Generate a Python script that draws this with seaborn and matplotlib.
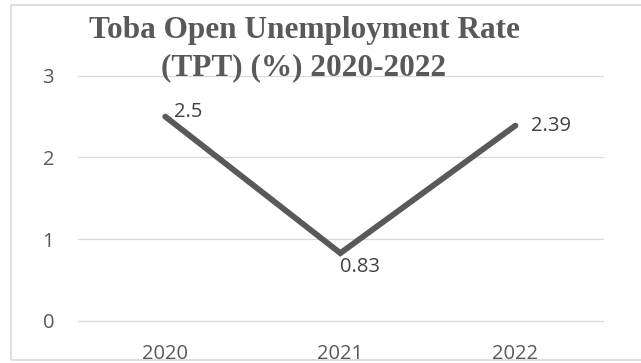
import matplotlib
matplotlib.use("Agg")
import matplotlib.pyplot as plt
import seaborn as sns
import pandas as pd
from matplotlib.patches import Rectangle

years = ["2020", "2021", "2022"]
rates = [2.5, 0.83, 2.39]
label_text = ["2.5", "0.83", "2.39"]
title_lines = ["Toba Open Unemployment Rate", "(TPT) (%) 2020-2022"]
y_ticks = [0, 1, 2, 3]

df = pd.DataFrame({"year": years, "rate": rates})

sns.set_theme(style="white")
plt.rcParams["font.family"] = ["Open Sans", "DejaVu Sans"]

W, H = 641, 363
fig = plt.figure(figsize=(W / 100, H / 100), dpi=100)
fig.patch.set_facecolor("white")

x0, x1 = 77.7, 603.0
ytop, ybot = 75.7, 321.0
ax = fig.add_axes([x0 / W, 1 - ybot / H, (x1 - x0) / W, (ybot - ytop) / H])
ax.set_facecolor("white")

grey = "#595959"
sns.lineplot(data=df, x="year", y="rate", ax=ax, color=grey, linewidth=4.2,
             sort=False, zorder=3)
for ln in ax.get_lines():
    ln.set_solid_capstyle("round")
    ln.set_solid_joinstyle("miter")

ax.set_xlim(-0.5, 2.5)
ax.set_ylim(0, 3)
ax.set_yticks(y_ticks)
ax.set_yticklabels([str(t) for t in y_ticks])
for t in y_ticks:
    ax.axhline(t, color="#d9d9d9", lw=0.9, zorder=1, clip_on=False)
for s in ax.spines.values():
    s.set_visible(False)
ax.set_xlabel("")
ax.set_ylabel("")
ax.tick_params(axis="y", length=0, pad=17, labelsize=14.5, labelcolor=grey)
ax.tick_params(axis="x", length=0, pad=16.5, labelsize=14.5, labelcolor=grey)

offsets = [((6, 3.5), "left", "center"), ((0, -10), "left", "center"), ((11, 0), "left", "center")]
for i, (v, txt) in enumerate(zip(rates, label_text)):
    (dx, dy), ha, va = offsets[i]
    ax.annotate(txt, xy=(i, v), xytext=(dx, dy), textcoords="offset points",
                ha=ha, va=va, fontsize=14.5, color="#404040", zorder=4)

# titles
tx = 304 / W
fig.text(tx, 1 - 38.3 / H, title_lines[0], ha="center", va="baseline",
         fontsize=22.5, fontweight="bold", family=["Liberation Serif", "DejaVu Serif"],
         color=grey)
fig.text(tx, 1 - 75.0 / H, title_lines[1], ha="center", va="baseline",
         fontsize=22.5, fontweight="bold", family=["Liberation Serif", "DejaVu Serif"],
         color=grey)

# chart frame
fig.add_artist(Rectangle((10.5 / W, 1 - 360 / H), 700 / W, (360 - 5) / H,
                         transform=fig.transFigure, fill=False,
                         edgecolor="#d9d9d9", lw=1.2, zorder=10))

fig.savefig("out.png", dpi=100, facecolor="white")
